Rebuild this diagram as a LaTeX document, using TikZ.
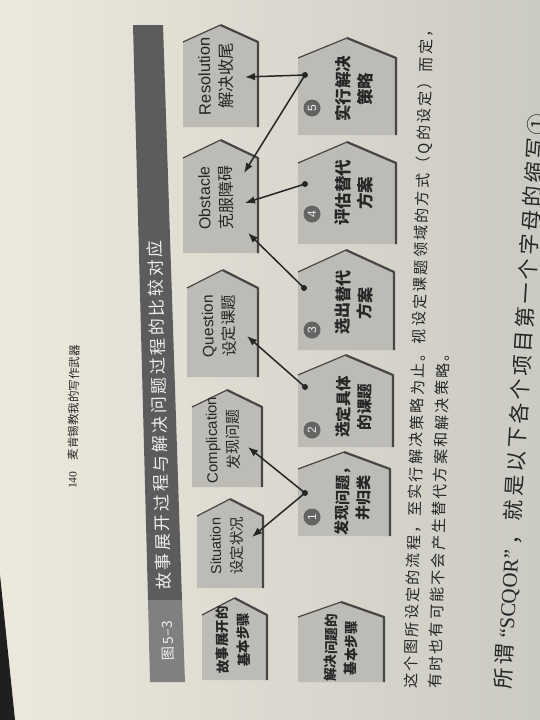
\documentclass[tikz,border=0pt]{standalone}
\usepackage{fontspec}
\setmainfont{Liberation Serif}
\newfontfamily\cjk{Noto Sans CJK SC}
\newfontfamily\cjksp[LetterSpace=15]{Noto Sans CJK SC}
\newfontfamily\ensans{Liberation Sans}
\usetikzlibrary{arrows.meta}
\definecolor{pageL}{RGB}{236,233,220}
\definecolor{pageR}{RGB}{203,202,195}
\definecolor{shapefill}{RGB}{188,187,182}
\definecolor{shapeline}{RGB}{72,70,68}
\definecolor{banddark}{RGB}{92,92,92}
\definecolor{bandlight}{RGB}{128,128,128}
\definecolor{circfill}{RGB}{100,100,100}
\definecolor{ink}{RGB}{38,38,38}
\definecolor{titlecol}{RGB}{238,238,236}
\newcommand\pentagon[6]{%
  \fill[shapefill] (#1,#5) -- (#1,#4) -- ({(#1+#2)/2},#3) -- (#2,#4) -- (#2,#5) -- cycle;
  \draw[shapeline, line width=1.2pt, line join=round] (#1,#4) -- ({(#1+#2)/2},#3);
  \draw[shapeline, line width=2.2pt, line join=round] ({(#1+#2)/2},#3) -- (#2,#4) -- (#2,#5);
  \coordinate (#6) at ({(#1+#2)/2},{(#3+#5)/2});
}
\tikzset{
  conn/.style={draw=ink, line width=1.5pt, -{Latex[length=10pt,width=7.5pt]}},
  toptxt/.style={rotate=91, align=center, text=ink, inner sep=0pt},
  bottxt/.style={rotate=89.5, align=center, text=ink, inner sep=0pt},
  numc/.style={circle, fill=circfill, minimum size=17pt, inner sep=0pt, rotate=90,
    text=titlecol, font=\ensans\fontsize{12}{12}\selectfont},
  capline/.style={anchor=west, inner sep=0pt, text=ink}
}
\begin{document}
\begin{tikzpicture}[x=1pt,y=-1pt]
\useasboundingbox (0,0) rectangle (540,720);
\clip (0,0) rectangle (540,720);
\shade[left color=pageL, right color=pageR] (0,0) rectangle (540,720);
\fill[black!88] (0,575) -- (15,720) -- (0,720) -- cycle;

% header
\node[capline, rotate=89, font=\fontsize{11.5}{11.5}\selectfont] (hdr) at (72,489) {140\quad{\cjk 麦肯锡教我的写作武器}};

% title band
\fill[banddark] (133,25) -- (163,25) -- (182,600) -- (148,600) -- cycle;
\fill[bandlight] (148,600) -- (182,600) -- (185,682) -- (150,682) -- cycle;
\node[rotate=91.5, anchor=west, inner sep=0pt, text=titlecol, font=\cjksp\fontsize{17}{17}\selectfont] (title) at (164,590) {故事展开过程与解决问题过程的比较对应};
\node[rotate=91.5, inner sep=0pt, text=titlecol, font=\cjk\fontsize{14}{14}\selectfont] (fig) at (168,641) {图\,5–3};

% top row: story steps
\pentagon{183}{258}{25}{42}{127}{res}
\pentagon{183}{258}{140}{158}{253}{obs}
\pentagon{187}{258}{270}{288}{377}{que}
\pentagon{192}{262}{390}{407}{487}{com}
\pentagon{197}{263}{499}{516}{588}{sit}
\pentagon{202}{267}{598}{615}{680}{story}
\node[toptxt, font=\fontsize{16.5}{22}\selectfont] (tres) at (216,76) {{\ensans Resolution}\\{\cjk 解决收尾}};
\node[toptxt, font=\fontsize{16}{22}\selectfont] (tobs) at (216,198) {{\ensans Obstacle}\\{\cjk 克服障碍}};
\node[toptxt, font=\fontsize{15.5}{21.5}\selectfont] (tque) at (219,326) {{\ensans Question}\\{\cjk 设定课题}};
\node[toptxt, font=\fontsize{15}{21.5}\selectfont] (tcom) at (223,440) {{\ensans Complication}\\{\cjk 发现问题}};
\node[toptxt, font=\fontsize{14.5}{21.5}\selectfont] (tsit) at (227,546) {{\ensans Situation}\\{\cjk 设定状况}};
\node[toptxt, font=\cjk\bfseries\fontsize{13.5}{21}\selectfont] (tstory) at (233,640) {故事展开的\\基本步骤};

% bottom row: problem solving steps
\pentagon{298}{396}{38}{58}{135}{p5}
\pentagon{298}{396}{142}{163}{244}{p4}
\pentagon{298}{394}{250}{272}{350}{p3}
\pentagon{298}{393}{355}{375}{447}{p2}
\pentagon{298}{390}{452}{469}{536}{p1}
\pentagon{298}{384}{602}{617}{682}{solve}
\node[numc] (n5) at (312,108) {5};
\node[numc] (n4) at (312,214) {4};
\node[numc] (n3) at (312,330) {3};
\node[numc] (n2) at (312,430) {2};
\node[numc] (n1) at (312,517) {1};
\node[bottxt, font=\cjk\bfseries\fontsize{16.5}{22}\selectfont] (tp5) at (354,89) {实行解决\\策略};
\node[bottxt, font=\cjk\bfseries\fontsize{16.5}{22}\selectfont] (tp4) at (354,193) {评估替代\\方案};
\node[bottxt, font=\cjk\bfseries\fontsize{16}{22}\selectfont] (tp3) at (354,303) {选出替代\\方案};
\node[bottxt, font=\cjk\bfseries\fontsize{15.5}{21.5}\selectfont] (tp2) at (354,407) {选定具体\\的课题};
\node[bottxt, font=\cjk\bfseries\fontsize{15}{21}\selectfont] (tp1) at (353,498) {发现问题，\\并归类};
\node[bottxt, font=\cjk\bfseries\fontsize{13.5}{20}\selectfont] (tsolve) at (341,648) {解决问题的\\基本步骤};

% connectors
\coordinate (d5) at (305,75);
\coordinate (d4) at (305,184);
\coordinate (d3) at (304,288);
\coordinate (d2) at (305,387);
\coordinate (d1) at (305,493);
\coordinate (a5r) at (245,77);
\coordinate (a5o) at (244,173);
\coordinate (a4o) at (245,203);
\coordinate (a3o) at (248,233);
\coordinate (a2q) at (247,336);
\coordinate (a1c) at (248,447);
\coordinate (a1s) at (252,537);
\draw[conn] (d5) -- (a5r);
\draw[conn] (d5) -- (a5o);
\draw[conn] (d4) -- (a4o);
\draw[conn] (d3) -- (a3o);
\draw[conn] (d2) -- (a2q);
\draw[conn] (d1) -- (a1c);
\draw[conn] (d1) -- (a1s);
\foreach \d in {d5,d4,d3,d2,d1} \fill[ink] (\d) circle (3pt);

% caption and body text
\node[capline, rotate=88.6, font=\cjksp\fontsize{15}{15}\selectfont] (cap1) at (411,689) {这个图所设定的流程，至实行解决策略为止。视设定课题领域的方式（Q的设定）而定，};
\node[capline, rotate=88.6, font=\cjksp\fontsize{15}{15}\selectfont] (cap2) at (435,689) {有时也有可能不会产生替代方案和解决策略。};
\node[capline, rotate=86.5, font=\fontsize{21}{21}\selectfont] (body) at (503,689) {{\cjksp 所谓} “SCQOR” {\cjksp ，就是以下各个项目第一个字母的缩写①}};
\end{tikzpicture}
\end{document}
